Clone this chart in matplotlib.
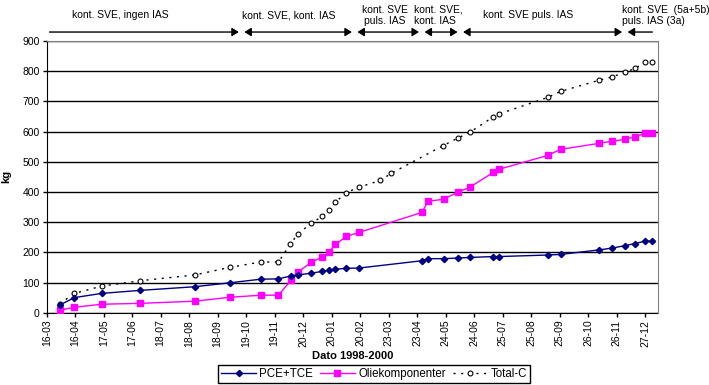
import matplotlib
matplotlib.use("Agg")
import matplotlib.pyplot as plt
import matplotlib.dates as mdates
import pandas as pd

plt.rcParams["font.family"] = ["Liberation Sans", "DejaVu Sans"]

# Sampling dates (shared by PCE+TCE and oil components)
DATES = [
    "1998-03-30", "1998-04-15", "1998-05-15", "1998-06-26", "1998-08-24",
    "1998-10-01", "1998-11-04", "1998-11-23", "1998-12-07", "1998-12-14",
    "1998-12-29", "1999-01-10", "1999-01-17", "1999-01-24", "1999-02-05",
    "1999-02-19", "1999-04-28", "1999-05-05", "1999-05-22", "1999-06-06",
    "1999-06-19", "1999-07-15", "1999-07-21", "1999-09-12", "1999-09-26",
    "1999-11-07", "1999-11-21", "1999-12-05", "1999-12-16", "1999-12-27",
    "2000-01-04",
]
PCE_TCE = [25, 50, 64, 74, 86, 99, 111, 112, 122, 125, 131, 137, 140, 144,
           147, 148, 172, 179, 179, 181, 183, 186, 186, 191, 193, 208, 214,
           222, 229, 237, 237]
OLIE = [8, 18, 28, 31, 38, 51, 58, 58, 108, 134, 167, 185, 200, 226, 253,
        266, 332, 369, 376, 399, 415, 465, 475, 521, 541, 561, 568, 574, 583,
        594, 594]

# Total-C has its own sampling dates
DATES_TOTAL = [
    "1998-03-30", "1998-04-15", "1998-05-15", "1998-06-26", "1998-08-24",
    "1998-10-01", "1998-11-04", "1998-11-23", "1998-12-06", "1998-12-14",
    "1998-12-29", "1999-01-10", "1999-01-17", "1999-01-24", "1999-02-05",
    "1999-02-19", "1999-03-14", "1999-03-26", "1999-05-21", "1999-06-06",
    "1999-06-19", "1999-07-15", "1999-07-21", "1999-09-12", "1999-09-26",
    "1999-11-07", "1999-11-21", "1999-12-05", "1999-12-16", "1999-12-27",
    "2000-01-04",
]
TOTAL_C = [29, 64, 88, 106, 125, 150, 168, 168, 226, 261, 296, 320, 339, 366,
           398, 416, 438, 462, 553, 578, 597, 649, 658, 713, 733, 770, 781,
           796, 809, 829, 829]

TICK_LABELS = ["16-03", "16-04", "17-05", "17-06", "18-07", "18-08", "18-09",
               "19-10", "19-11", "20-12", "20-01", "20-02", "23-03", "23-04",
               "24-05", "24-06", "25-07", "25-08", "25-09", "26-10", "26-11",
               "27-12"]

# Operating phases shown above the plot: boundaries and labels
PHASE_BOUNDS = ["1998-03-16", "1998-10-14", "1999-02-14", "1999-04-28",
                "1999-06-09", "1999-12-05", "2000-01-07"]
PHASE_LABELS = ["kont. SVE, ingen IAS", "kont. SVE, kont. IAS",
                "kont. SVE\npuls. IAS", "kont. SVE,\nkont. IAS",
                "kont. SVE puls. IAS", "kont. SVE  (5a+5b)\npuls. IAS (3a)"]
# (anchor date, alignment) for each phase label
PHASE_TEXT_POS = [("1998-06-04", "center"), ("1998-12-04", "center"),
                  ("1999-03-19", "center"), ("1999-04-20", "left"),
                  ("1999-08-22", "center"), ("1999-12-02", "left")]

FS = 7.5

fig = plt.figure(figsize=(7.09, 3.85), dpi=100)
ax = fig.add_axes([0.0659, 0.1878, 0.928 - 0.0659, 0.8935 - 0.1878])

d = pd.to_datetime(DATES)
dt = pd.to_datetime(DATES_TOTAL)

ax.plot(d, PCE_TCE, color="#000080", lw=1, marker="D", ms=3.2,
        mfc="#000080", mec="#000080", label="PCE+TCE", zorder=4)
ax.plot(d, OLIE, color="#FF00FF", lw=1, marker="s", ms=4,
        mfc="#FF00FF", mec="#FF00FF", label="Oliekomponenter", zorder=3)
ax.plot(dt, TOTAL_C, color="black", lw=1, ls=(0, (1.5, 4)), marker="o",
        ms=3.5, mfc="white", mec="black", mew=0.8, label="Total-C", zorder=3)

start = pd.Timestamp("1998-03-16")
ticks = pd.date_range(start, periods=len(TICK_LABELS), freq="31D")
ax.set_xticks(ticks)
ax.set_xticklabels(TICK_LABELS, rotation=90, fontsize=FS)
ax.set_xlim(start, start + pd.Timedelta(days=665))

ax.set_ylim(0, 900)
ax.set_yticks(range(0, 901, 100))
ax.tick_params(axis="y", labelsize=FS, length=3, width=1, pad=2)
ax.tick_params(axis="x", length=3, width=1, pad=2)

ax.yaxis.grid(True, color="black", lw=1)
ax.set_axisbelow(True)
for side in ("top", "right"):
    ax.spines[side].set_color("#808080")
    ax.spines[side].set_zorder(5)
for side in ("left", "bottom"):
    ax.spines[side].set_color("black")

ax.set_ylabel("kg", fontsize=8, fontweight="bold", labelpad=8)
ax.set_xlabel("Dato 1998-2000", fontsize=8, fontweight="bold", labelpad=3)

# Phase arrows and labels above the plot
trans = ax.get_xaxis_transform()
bounds = mdates.date2num(pd.to_datetime(PHASE_BOUNDS).to_pydatetime())
n = len(bounds) - 1
for i in range(n):
    if i == 0:
        style = "-|>"
    elif i == n - 1:
        style = "<|-"
    else:
        style = "<|-|>"
    ax.annotate("", xy=(bounds[i + 1], 1.033), xytext=(bounds[i], 1.033),
                xycoords=trans, textcoords=trans, annotation_clip=False,
                arrowprops=dict(arrowstyle=style + ",head_length=0.4,head_width=0.25",
                                color="black", lw=1, shrinkA=2, shrinkB=2,
                                mutation_scale=10))
for label, (pos, ha) in zip(PHASE_LABELS, PHASE_TEXT_POS):
    x = mdates.date2num(pd.Timestamp(pos).to_pydatetime())
    ax.text(x, 1.095, label, transform=trans, ha=ha,
            va="center", fontsize=FS, linespacing=1.15, multialignment=ha)

fig.legend(loc="lower center", bbox_to_anchor=(0.528, 0.0), ncol=3,
           fontsize=8.3, frameon=True, fancybox=False, edgecolor="black",
           framealpha=1, borderpad=0.25, handlelength=3, handletextpad=0.3,
           columnspacing=0.6, borderaxespad=0.2)

fig.savefig("out.png", dpi=100)
